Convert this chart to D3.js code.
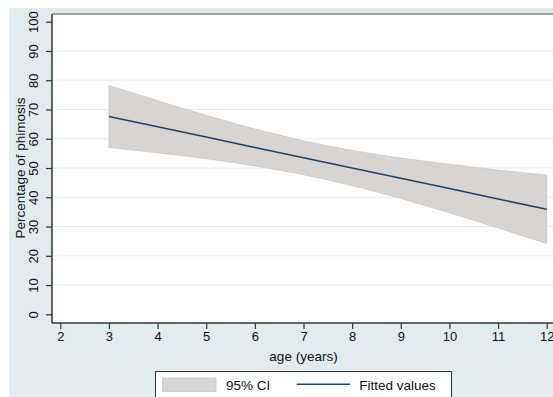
<!DOCTYPE html>
<html>
<head>
<meta charset="utf-8">
<script src="https://cdn.jsdelivr.net/npm/d3@7"></script>
<style>
  body { margin: 0; background: #fff; }
  svg text { font-family: "Liberation Sans", Arial, sans-serif; fill: #111; }
</style>
</head>
<body>
<div id="chart"></div>
<script>
// values
var ages = [3, 4, 5, 6, 7, 8, 9, 10, 11, 12];
var fitted = [67.6, 64.1, 60.6, 57.0, 53.5, 50.0, 46.5, 43.0, 39.4, 35.9];
var ciUpper = [78.2, 73.0, 68.0, 63.3, 59.3, 56.0, 53.4, 51.3, 49.3, 47.6];
var ciLower = [57.0, 55.2, 53.2, 50.7, 47.7, 44.0, 39.6, 34.7, 29.5, 24.2];
var xTicks = [2, 3, 4, 5, 6, 7, 8, 9, 10, 11, 12];
var yTicks = [0, 10, 20, 30, 40, 50, 60, 70, 80, 90, 100];
var legendLabels = ["95% CI", "Fitted values"];

var w = 553, h = 397;
var svg = d3.select("#chart").append("svg")
    .attr("width", w)
    .attr("height", h);

// graph region background
svg.append("rect")
    .attr("x", 9).attr("y", 8)
    .attr("width", w - 9).attr("height", h - 8)
    .attr("fill", "#e2ecee");

var plotLeft = 52, plotTop = 14, plotBottom = 323;

var xScale = d3.scaleLinear().domain([2, 12]).range([60.3, 546.7]);
var yScale = d3.scaleLinear().domain([0, 100]).range([314.3, 21.7]);

// plot region
svg.append("rect")
    .attr("x", plotLeft).attr("y", plotTop)
    .attr("width", 600).attr("height", plotBottom - plotTop)
    .attr("fill", "#fff");

svg.append("line")
    .attr("x1", plotLeft).attr("x2", w)
    .attr("y1", plotTop).attr("y2", plotTop)
    .attr("stroke", "#555").attr("stroke-width", 1);

// gridlines
svg.selectAll("line.grid")
    .data(yTicks.filter(d => d > 0 && d < 100))
    .enter().append("line")
    .attr("class", "grid")
    .attr("x1", plotLeft + 1).attr("x2", w)
    .attr("y1", d => yScale(d)).attr("y2", d => yScale(d))
    .attr("stroke", "#e3eeee").attr("stroke-width", 1);

var rows = ages.map((a, i) => ({ age: a, fit: fitted[i], lo: ciLower[i], hi: ciUpper[i] }));

// confidence band
var band = d3.area()
    .x(d => xScale(d.age))
    .y0(d => yScale(d.lo))
    .y1(d => yScale(d.hi))
    .curve(d3.curveMonotoneX);

svg.append("path")
    .datum(rows)
    .attr("d", band)
    .attr("fill", "#d8d4d2")
    .attr("stroke", "#c9c5c3")
    .attr("stroke-width", 0.8);

// fitted line
var line = d3.line()
    .x(d => xScale(d.age))
    .y(d => yScale(d.fit));

svg.append("path")
    .datum(rows)
    .attr("d", line)
    .attr("fill", "none")
    .attr("stroke", "#1a476f")
    .attr("stroke-width", 1.6);

// axes
var yAxis = d3.axisLeft(yScale).tickValues(yTicks).tickSize(6).tickPadding(6);
var yg = svg.append("g")
    .attr("transform", `translate(${plotLeft},0)`)
    .call(yAxis);
yg.select(".domain").attr("d", `M0,${plotTop}V${plotBottom}`).attr("stroke", "#333").attr("stroke-width", 1.5);
yg.selectAll(".tick line").attr("stroke", "#333").attr("stroke-width", 1.2);
yg.selectAll(".tick text")
    .attr("x", null).attr("dy", null)
    .attr("transform", "translate(-19,0) rotate(-90)")
    .attr("text-anchor", "middle")
    .attr("dy", "0.35em")
    .style("font-size", "13px");

var xAxis = d3.axisBottom(xScale).tickValues(xTicks).tickSize(6).tickPadding(3);
var xg = svg.append("g")
    .attr("transform", `translate(0,${plotBottom})`)
    .call(xAxis);
xg.select(".domain").attr("d", `M${plotLeft},0H${w}`).attr("stroke", "#333").attr("stroke-width", 1.5);
xg.selectAll(".tick line").attr("stroke", "#333").attr("stroke-width", 1.2);
xg.selectAll(".tick text").style("font-size", "13px");

svg.selectAll("g.tick text").attr("fill", "#111");

// axis titles
svg.append("text")
    .attr("x", 303.5).attr("y", 361)
    .attr("text-anchor", "middle")
    .style("font-size", "13.5px")
    .text("age (years)");

svg.append("text")
    .attr("transform", "translate(25,168) rotate(-90)")
    .attr("text-anchor", "middle")
    .style("font-size", "13.5px")
    .text("Percentage of phimosis");

// legend
var lg = svg.append("g");
lg.append("rect")
    .attr("x", 155.5).attr("y", 371.5)
    .attr("width", 296).attr("height", 40)
    .attr("fill", "#fff").attr("stroke", "#333").attr("stroke-width", 1);
lg.append("rect")
    .attr("x", 162.5).attr("y", 378)
    .attr("width", 53.5).attr("height", 13.5)
    .attr("fill", "#d8d4d2").attr("stroke", "#c9c5c3").attr("stroke-width", 0.8);
lg.append("text")
    .attr("x", 226).attr("y", 389.5)
    .style("font-size", "13.5px")
    .text(legendLabels[0]);
lg.append("line")
    .attr("x1", 296.7).attr("x2", 350)
    .attr("y1", 384.3).attr("y2", 384.3)
    .attr("stroke", "#1a476f").attr("stroke-width", 1.6);
lg.append("text")
    .attr("x", 359.3).attr("y", 389.5)
    .style("font-size", "13.5px")
    .text(legendLabels[1]);
</script>
</body>
</html>
